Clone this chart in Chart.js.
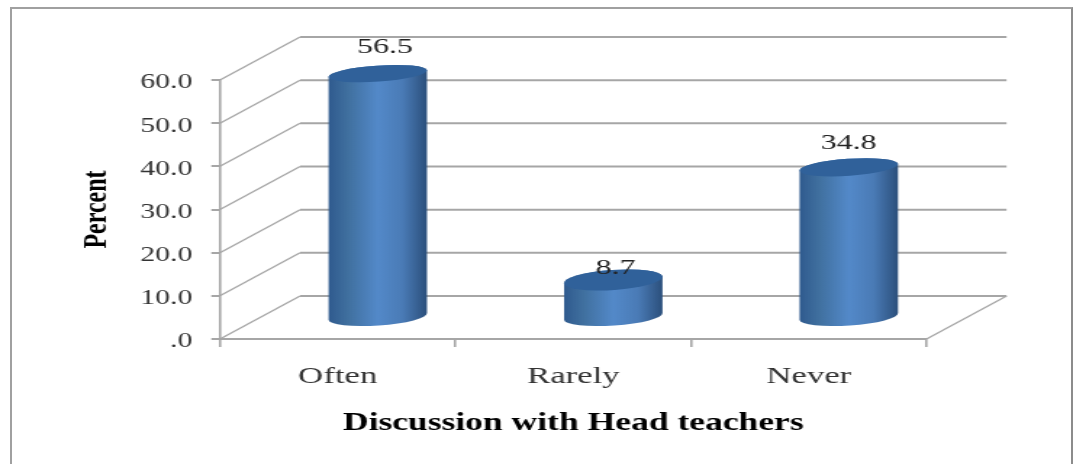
<html>
<head>
<meta charset="UTF-8">
<title>Discussion with Head teachers</title>
<style>
  html, body { margin: 0; padding: 0; background: #fff; overflow: hidden; }
  /* the source picture is stretched sideways, so the whole canvas is too */
  #myChart { position: absolute; left: 0; top: 0; transform-origin: 0 0; transform: scaleX(1.45); }
  #frame { position: absolute; left: 10px; top: 7px; width: 1063px; height: 470px; box-sizing: border-box; border: 2px solid #a0a0a0; border-right-color: #8c8c8c; }
</style>
</head>
<body>
<canvas id="myChart" width="741" height="464"></canvas>
<div id="frame"></div>

<script src="https://cdn.jsdelivr.net/npm/chart.js@4"></script>
<script>
const categories = ['Often', 'Rarely', 'Never'];
const percent = [56.5, 8.7, 34.8];
const yTickLabels = ['.0', '10.0', '20.0', '30.0', '40.0', '50.0', '60.0'];

const xTitle = 'Discussion with Head teachers';
const yTitle = 'Percent';

const STRETCH = 1.45;
const depthX = 80 / STRETCH;
const depthY = 43;
const gridColor = '#a6a6a6';
const capRy = [8, 10, 8.5];
const labelShift = [[5, -26], [1.5, -12], [0, -24]];

const walls = {
  id: 'walls',
  beforeDatasetsDraw(chart) {
    const { ctx, chartArea: area, scales: { y } } = chart;
    // side wall and back wall lines
    ctx.save();
    ctx.strokeStyle = gridColor;
    y.ticks.forEach(t => {
      const py = y.getPixelForValue(t.value);
      ctx.lineWidth = 1.3;
      ctx.beginPath();
      ctx.moveTo(area.left, py);
      ctx.lineTo(area.left + depthX, py - depthY);
      ctx.stroke();
      ctx.lineWidth = 2;
      ctx.beginPath();
      ctx.moveTo(area.left + depthX, py - depthY);
      ctx.lineTo(area.right + depthX, py - depthY);
      ctx.stroke();
    });
    const floor = y.getPixelForValue(0);
    ctx.lineWidth = 1.3;
    ctx.beginPath();
    ctx.moveTo(area.right, floor);
    ctx.lineTo(area.right + depthX, floor - depthY);
    ctx.stroke();
    ctx.restore();

    // cylinders
    const meta = chart.getDatasetMeta(0);
    meta.data.forEach((bar, i) => {
      const rx = bar.width / 2;
      const cx = bar.x + depthX / 2;
      const top = bar.y - depthY / 2;
      const base = bar.base - depthY / 2;
      const tilt = -0.1;

      const side = ctx.createLinearGradient(cx - rx, 0, cx + rx, 0);
      side.addColorStop(0, '#2f5a8e');
      side.addColorStop(0.2, '#40709f');
      side.addColorStop(0.5, '#5389c9');
      side.addColorStop(0.75, '#4a7bb6');
      side.addColorStop(1, '#2b4f7b');

      ctx.save();
      ctx.beginPath();
      ctx.ellipse(cx, base, rx, 9, tilt, Math.PI, 0, true);
      ctx.ellipse(cx, top, rx, capRy[i], tilt, 0, Math.PI, true);
      ctx.closePath();
      ctx.fillStyle = side;
      ctx.fill();

      ctx.beginPath();
      ctx.ellipse(cx, top, rx, capRy[i], tilt, 0, Math.PI * 2);
      ctx.fillStyle = '#30619a';
      ctx.fill();

      // value above the cylinder
      ctx.fillStyle = '#222';
      ctx.font = '22px "Liberation Serif"';
      ctx.textAlign = 'center';
      ctx.textBaseline = 'middle';
      ctx.fillText(percent[i].toFixed(1), cx + labelShift[i][0], top + labelShift[i][1]);
      ctx.restore();
    });
    return false;
  }
};

new Chart(document.getElementById('myChart').getContext('2d'), {
  type: 'bar',
  data: {
    labels: categories,
    datasets: [{
      label: yTitle,
      data: percent,
      backgroundColor: '#4f81bd',
      categoryPercentage: 1,
      barPercentage: 0.42
    }]
  },
  plugins: [walls],
  options: {
    responsive: false,
    animation: false,
    devicePixelRatio: 1,
    layout: { padding: { top: 80, right: 102, left: 0, bottom: 0 } },
    plugins: { legend: { display: false }, tooltip: { enabled: false } },
    scales: {
      x: {
        afterFit: s => { s.height = 125; },
        grid: { drawOnChartArea: false, color: gridColor, lineWidth: 1.6, tickLength: 8 },
        border: { color: gridColor, width: 2 },
        ticks: { color: '#333', font: { family: 'Liberation Serif', size: 24 }, padding: 15 },
        title: {
          display: true,
          text: xTitle,
          color: '#000',
          font: { family: 'Liberation Serif', size: 24.5, weight: 'bold' },
          padding: { top: 10, bottom: 26 }
        }
      },
      y: {
        min: 0,
        max: 60,
        afterFit: s => { s.width = 220 / STRETCH; },
        grid: { drawOnChartArea: false, color: gridColor, lineWidth: 2, tickLength: 6 },
        border: { color: gridColor, width: 1.6 },
        ticks: {
          stepSize: 10,
          color: '#333',
          padding: 13,
          labelOffset: 3,
          font: { family: 'Liberation Serif', size: 20.5 },
          callback: (v, i) => yTickLabels[i]
        },
        title: {
          display: true,
          text: yTitle,
          color: '#000',
          font: { family: 'Liberation Serif', size: 24, weight: 'bold' },
          padding: { top: 52, bottom: 0 }
        }
      }
    }
  }
});
</script>
</body>
</html>
